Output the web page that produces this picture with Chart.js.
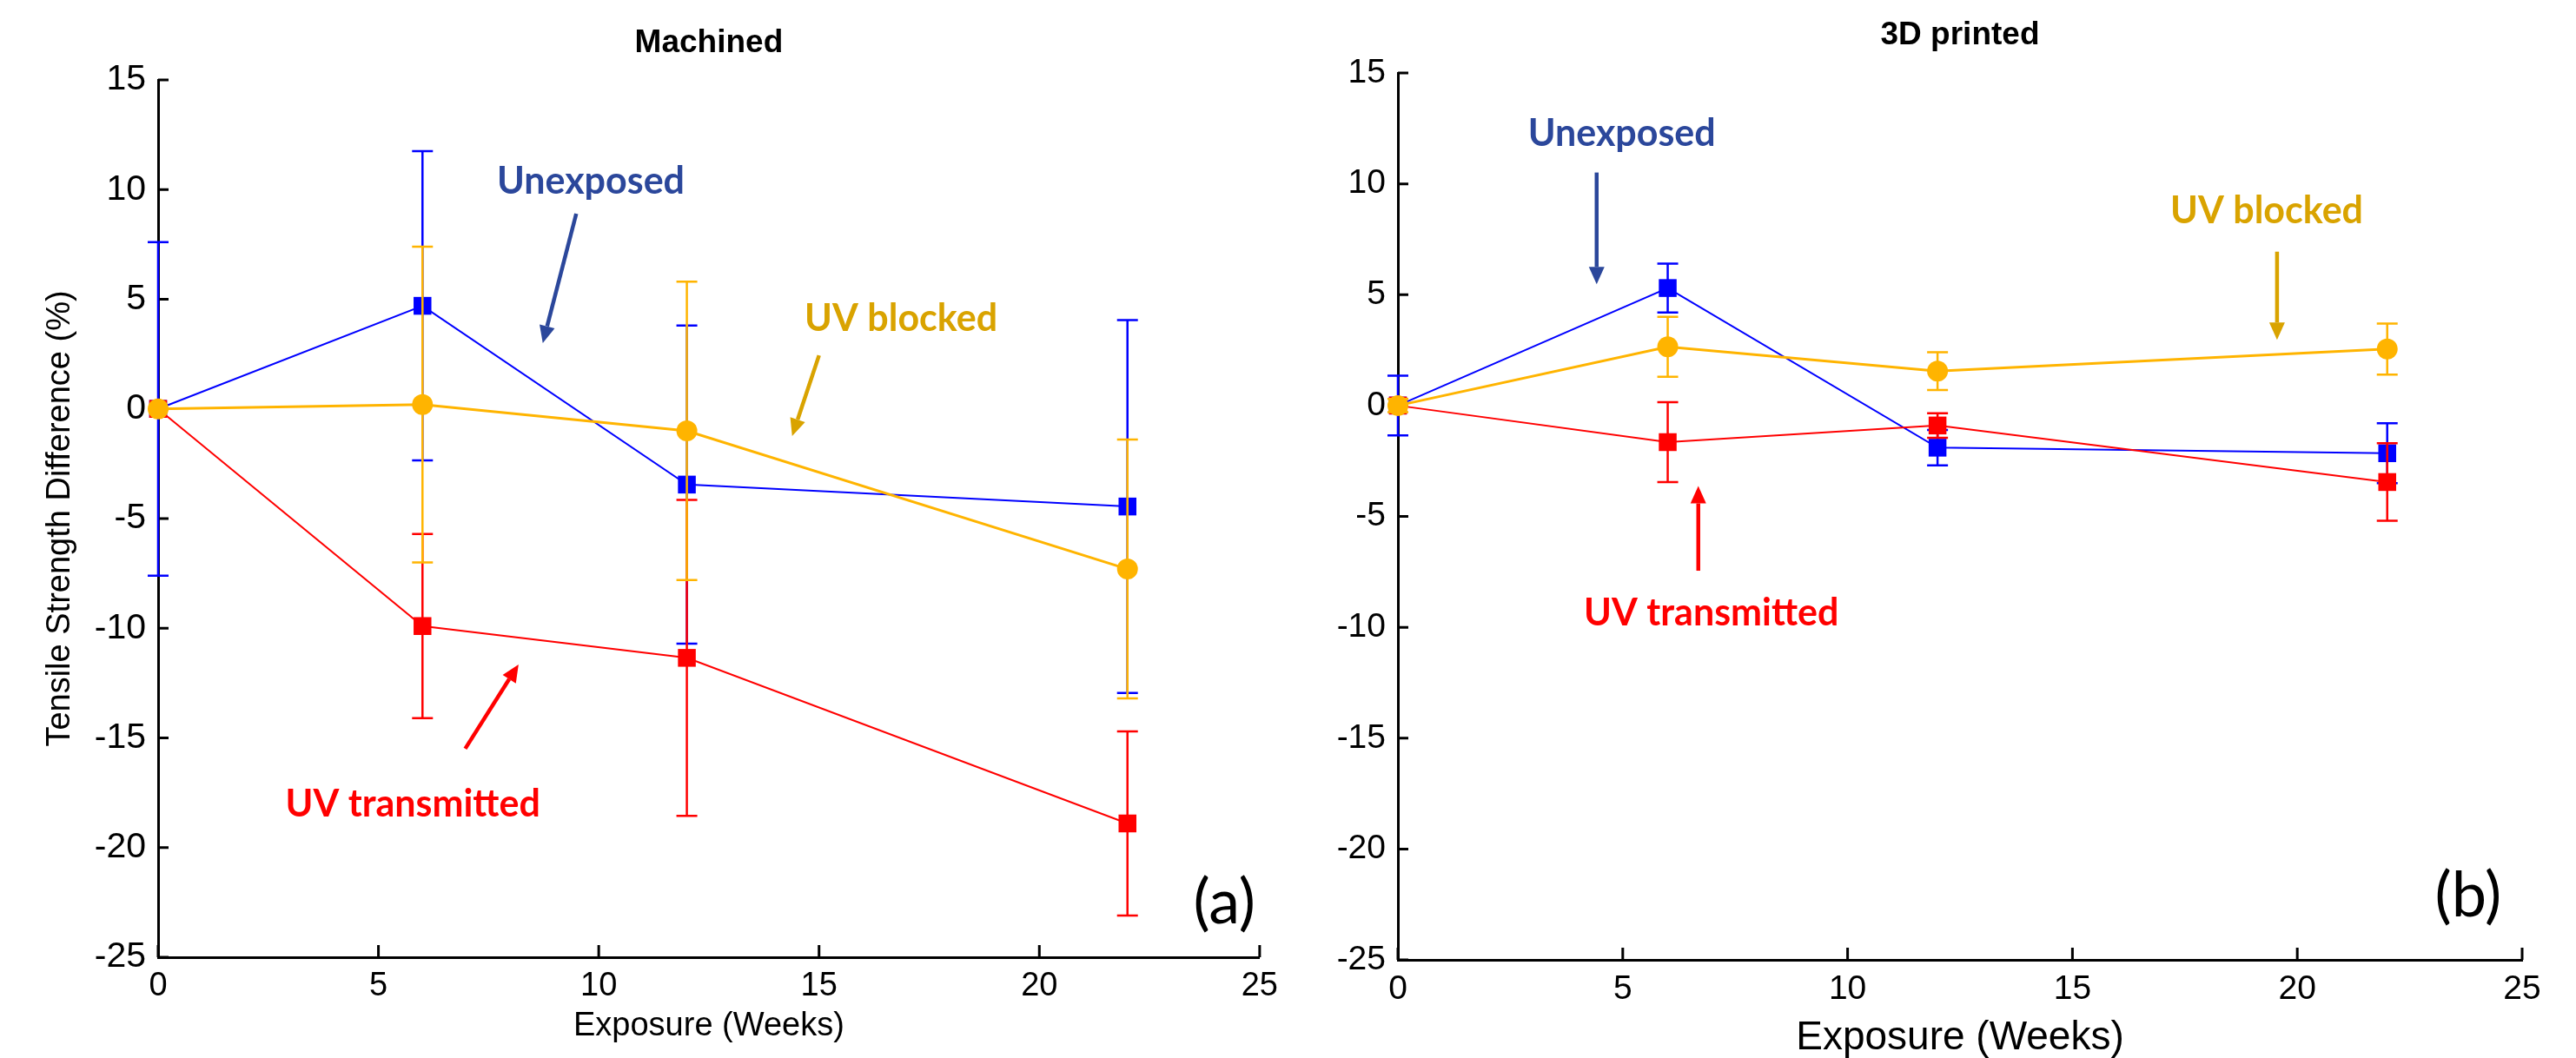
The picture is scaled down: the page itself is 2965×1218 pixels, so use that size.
<!DOCTYPE html>
<html>
<head>
<meta charset="utf-8">
<title>Tensile strength difference</title>
<script src="https://cdn.jsdelivr.net/npm/chart.js@4.4.1/dist/chart.umd.min.js"></script>
<style>
    html, body { margin: 0; padding: 0; background: #fff; }
    #wrap { position: relative; width: 2965px; height: 1218px; }
    canvas { position: absolute; top: 0; }
</style>
</head>
<body>
<div id="wrap">
    <canvas id="chartA" width="1482" height="1218" style="left:0"></canvas>
    <canvas id="chartB" width="1483" height="1218" style="left:1482px"></canvas>
</div>
<script>
// exposure weeks shared by every series
const weeks = [0, 6, 12, 22];
const xTicks = [0, 5, 10, 15, 20, 25];
const yTicks = [-25, -20, -15, -10, -5, 0, 5, 10, 15];

// (a) Machined
const machinedUnexposed = [0, 4.7, -3.45, -4.45];
const machinedUnexposedErr = [7.6, 7.05, 7.25, 8.5];
const machinedBlocked = [0, 0.2, -1.0, -7.3];
const machinedBlockedErr = [0, 7.2, 6.8, 5.9];
const machinedTransmitted = [0, -9.9, -11.35, -18.9];
const machinedTransmittedErr = [0, 4.2, 7.2, 4.2];

// (b) 3D printed
const printedUnexposed = [0, 5.3, -1.9, -2.15];
const printedUnexposedErr = [1.35, 1.1, 0.8, 1.35];
const printedBlocked = [0, 2.65, 1.55, 2.55];
const printedBlockedErr = [0.3, 1.35, 0.85, 1.15];
const printedTransmitted = [0, -1.65, -0.9, -3.45];
const printedTransmittedErr = [0, 1.8, 0.55, 1.75];

const BLUE = '#0000ff', ORANGE = '#ffb400', RED = '#ff0000';
const NOTE_BLUE = '#2b479b', NOTE_GOLD = '#d9a300', NOTE_RED = '#ff0000';
const NARROW = '"Liberation Sans Narrow", "Liberation Sans", Arial, sans-serif';
const SANS = '"Liberation Sans", Arial, sans-serif';

function drawArrow(ctx, x1, y1, x2, y2, color) {
    const ang = Math.atan2(y2 - y1, x2 - x1), head = 20, half = 9;
    const bx = x2 - head * Math.cos(ang), by = y2 - head * Math.sin(ang);
    ctx.strokeStyle = color;
    ctx.fillStyle = color;
    ctx.lineWidth = 4.5;
    ctx.beginPath();
    ctx.moveTo(x1, y1);
    ctx.lineTo(bx, by);
    ctx.stroke();
    ctx.beginPath();
    ctx.moveTo(x2, y2);
    ctx.lineTo(bx + half * Math.sin(ang), by - half * Math.cos(ang));
    ctx.lineTo(bx - half * Math.sin(ang), by + half * Math.cos(ang));
    ctx.closePath();
    ctx.fill();
}

// error bars drawn right after their own series, so the layering follows dataset order
const errorBars = {
    id: 'errorBars',
    afterDatasetDraw(chart, args) {
        const ds = chart.data.datasets[args.index];
        if (!ds.errors) return;
        const { ctx, scales: { x, y } } = chart;
        ctx.save();
        ctx.strokeStyle = ds.borderColor;
        ctx.lineWidth = 2.5;
        ds.data.forEach((p, i) => {
            const e = ds.errors[i];
            if (!e) return;
            const px = x.getPixelForValue(p.x);
            const top = y.getPixelForValue(p.y + e);
            const bot = y.getPixelForValue(p.y - e);
            ctx.beginPath();
            ctx.moveTo(px, top); ctx.lineTo(px, bot);
            ctx.moveTo(px - 12, top); ctx.lineTo(px + 12, top);
            ctx.moveTo(px - 12, bot); ctx.lineTo(px + 12, bot);
            ctx.stroke();
        });
        ctx.restore();
    }
};

// MATLAB style ticks pointing into the plot
const inwardTicks = {
    id: 'inwardTicks',
    beforeDatasetsDraw(chart) {
        const { ctx, chartArea: a, scales: { x, y } } = chart;
        ctx.save();
        ctx.strokeStyle = '#000';
        ctx.lineWidth = 3;
        ctx.beginPath();
        x.ticks.forEach(t => {
            const px = x.getPixelForValue(t.value);
            ctx.moveTo(px, a.bottom);
            ctx.lineTo(px, a.bottom - 14);
        });
        y.ticks.forEach(t => {
            const py = y.getPixelForValue(t.value);
            ctx.moveTo(a.left, py);
            ctx.lineTo(a.left + 12, py);
        });
        ctx.stroke();
        ctx.restore();
    }
};

const notes = {
    id: 'notes',
    afterDraw(chart, args, opts) {
        const { ctx, chartArea: a, scales: { x, y } } = chart;
        ctx.save();
        ctx.textAlign = 'center';
        ctx.textBaseline = 'alphabetic';
        ctx.fillStyle = '#000';
        ctx.font = 'bold 37px ' + SANS;
        ctx.fillText(opts.title, (a.left + a.right) / 2, opts.titleBaseline);

        opts.labels.forEach(l => {
            ctx.fillStyle = l.color;
            ctx.font = 'bold 43px Lato, "Open Sans", sans-serif';
            ctx.fillText(l.text, x.getPixelForValue(l.at[0]), y.getPixelForValue(l.at[1]));
            drawArrow(ctx,
                x.getPixelForValue(l.from[0]), y.getPixelForValue(l.from[1]),
                x.getPixelForValue(l.to[0]), y.getPixelForValue(l.to[1]), l.color);
        });

        ctx.fillStyle = '#000';
        ctx.font = '72px Lato, "Open Sans", sans-serif';
        ctx.fillText(opts.panel.text, x.getPixelForValue(opts.panel.at[0]), y.getPixelForValue(opts.panel.at[1]));
        ctx.restore();
    }
};

function series(label, values, errors, color, style, width, order) {
    return {
        label,
        data: weeks.map((w, i) => ({ x: w, y: values[i] })),
        errors,
        borderColor: color,
        backgroundColor: color,
        borderWidth: width,
        pointStyle: style,
        pointRadius: style === 'rect' ? 14.5 : 12,
        pointBorderWidth: 0,
        tension: 0,
        clip: false,
        order
    };
}

function makeChart(id, cfg) {
    return new Chart(document.getElementById(id), {
        type: 'line',
        data: {
            datasets: [
                series('Unexposed', cfg.unexposed, cfg.unexposedErr, BLUE, 'rect', 2, 3),
                series('UV transmitted', cfg.transmitted, cfg.transmittedErr, RED, 'rect', 2, 2),
                series('UV blocked', cfg.blocked, cfg.blockedErr, ORANGE, 'circle', 3, 1)
            ]
        },
        options: {
            responsive: false,
            animation: false,
            devicePixelRatio: 1,
            layout: { padding: cfg.padding },
            scales: {
                x: {
                    type: 'linear', min: 0, max: 25,
                    afterBuildTicks: s => { s.ticks = xTicks.map(v => ({ value: v })); },
                    afterFit: s => { s.height = cfg.xHeight; },
                    grid: { display: false, drawTicks: false },
                    border: { display: true, color: '#000', width: 3 },
                    ticks: { color: '#000', padding: 11, maxRotation: 0, autoSkip: false,
                        font: { family: NARROW, size: cfg.xTickSize } },
                    title: { display: true, text: 'Exposure (Weeks)', color: '#000',
                        font: { family: SANS, size: cfg.xTitleSize, lineHeight: cfg.xTitleLine },
                        padding: { top: 0, bottom: cfg.xTitlePad } }
                },
                y: {
                    type: 'linear', min: -25, max: 15,
                    afterBuildTicks: s => { s.ticks = yTicks.map(v => ({ value: v })); },
                    afterFit: s => { s.width = cfg.yWidth; },
                    grid: { display: false, drawTicks: false },
                    border: { display: true, color: '#000', width: 3 },
                    ticks: { color: '#000', padding: 14, font: { family: NARROW, size: cfg.yTickSize } },
                    title: { display: cfg.yTitle, text: 'Tensile Strength Difference (%)', color: '#000',
                        font: { family: SANS, size: 38, lineHeight: 1.2 }, padding: { top: 47, bottom: 0 } }
                }
            },
            plugins: {
                legend: { display: false },
                tooltip: { enabled: false },
                notes: cfg.notes
            }
        },
        plugins: [inwardTicks, errorBars, notes]
    });
}

makeChart('chartA', {
    unexposed: machinedUnexposed, unexposedErr: machinedUnexposedErr,
    blocked: machinedBlocked, blockedErr: machinedBlockedErr,
    transmitted: machinedTransmitted, transmittedErr: machinedTransmittedErr,
    padding: { left: 0, top: 92, right: 20, bottom: 0 },
    xHeight: 116, yWidth: 182, yTitle: true,
    xTickSize: 38, yTickSize: 41, xTitleSize: 38, xTitleLine: 1.2, xTitlePad: 14,
    notes: {
        title: 'Machined', titleBaseline: 60,
        panel: { text: '(a)', at: [24.2, -23.46] },
        labels: [
            { text: 'Unexposed', color: NOTE_BLUE, at: [9.82, 9.81], from: [9.49, 8.9], to: [8.73, 3.0] },
            { text: 'UV blocked', color: NOTE_GOLD, at: [16.86, 3.55], from: [15.0, 2.44], to: [14.39, -1.24] },
            { text: 'UV transmitted', color: NOTE_RED, at: [5.78, -18.59], from: [6.97, -15.49], to: [8.18, -11.65] }
        ]
    }
});

makeChart('chartB', {
    unexposed: printedUnexposed, unexposedErr: printedUnexposedErr,
    blocked: printedBlocked, blockedErr: printedBlockedErr,
    transmitted: printedTransmitted, transmittedErr: printedTransmittedErr,
    padding: { left: 0, top: 84, right: 62, bottom: 0 },
    xHeight: 113, yWidth: 127, yTitle: false,
    xTickSize: 39, yTickSize: 39, xTitleSize: 46, xTitleLine: 1, xTitlePad: 0,
    notes: {
        title: '3D printed', titleBaseline: 51,
        panel: { text: '(b)', at: [23.8, -23.06] },
        labels: [
            { text: 'Unexposed', color: NOTE_BLUE, at: [4.98, 11.69], from: [4.42, 10.51], to: [4.42, 5.47] },
            { text: 'UV blocked', color: NOTE_GOLD, at: [19.32, 8.24], from: [19.55, 6.94], to: [19.55, 2.96] },
            { text: 'UV transmitted', color: NOTE_RED, at: [6.97, -9.9], from: [6.68, -7.45], to: [6.68, -3.63] }
        ]
    }
});
</script>
</body>
</html>
